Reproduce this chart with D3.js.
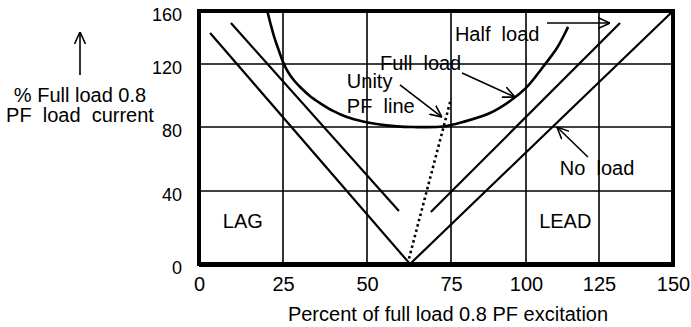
<!DOCTYPE html>
<html>
<head>
<meta charset="utf-8">
<script src="https://cdn.jsdelivr.net/npm/d3@7"></script>
<style>
  html, body { margin: 0; padding: 0; background: #fff; }
  svg { display: block; font-family: "Liberation Sans", Arial, Helvetica, sans-serif; }
</style>
</head>
<body>
<svg id="chart" width="691" height="327"></svg>
<script>
// ---- data ----
const xTicks = [0, 25, 50, 75, 100, 125, 150];
const yTicks = [0, 40, 80, 120, 160];
const xGrid = [25, 50, 75, 100, 125];
const yGrid = [40, 80, 120];

// No load V-curve
const noLoadX = [3.3, 62.8, 150];
const noLoadY = [143.4, 0, 160];

// Half load V-curve (two arms)
const halfLeftX = [9.5, 59.5];
const halfLeftY = [150.9, 29.0];
const halfRightX = [69.0, 132.1];
const halfRightY = [28.5, 150.9];

// Full load V-curve (U shape)
const fullLoadX = [20.4, 21.3, 22.3, 23.7, 25, 26.5, 28.3, 30.1, 33.0, 36.0, 39.9, 44.0, 48.8, 53.9, 58.9, 63.7, 72.6, 79, 88, 94.7, 100, 105.8, 110.6, 113.4, 114.4];
const fullLoadY = [159.2, 150.2, 141.1, 130.6, 121.5, 114.9, 109.5, 105.4, 99.7, 95.2, 90.2, 86.3, 83.5, 81.6, 80.4, 80, 80.3, 83.2, 88.9, 96.5, 104.8, 118.1, 132.1, 143.4, 148];

// Unity PF line (dotted)
const unityX = [62.5, 75];
const unityY = [3, 98];

// Annotation texts
const labelTexts = ["Unity", "PF  line", "Full  load", "Half  load", "No  load", "LAG", "LEAD"];
const labelX = [44.0, 44.0, 53.9, 76.3, 111.6, 7.1, 104.5];
const labelY = [104.8, 88.9, 116.2, 137.4, 50, 19.7, 19.7];

// Annotation arrows (from -> to)
const arrowFromX = [59.8, 78.7, 107.2, 121.2];
const arrowFromY = [106.7, 114.3, 150.9, 61.25];
const arrowToX = [72.3, 96.3, 128.7, 110.6];
const arrowToY = [86.3, 99.0, 150.9, 80];

const xTitle = "Percent of full load 0.8 PF excitation";
const yTitle = ["% Full load 0.8", "PF  load  current"];

// ---- scales (the source picture is not uniformly spaced) ----
const x = d3.scaleLinear().domain(xTicks).range([199, 283, 367, 451, 526, 599, 673]);
const y = d3.scaleLinear().domain(yTicks).range([264, 191, 127, 64, 11]);

const svg = d3.select("#chart");

svg.append("defs").append("marker")
  .attr("id", "arr")
  .attr("viewBox", "0 0 12 12")
  .attr("refX", 12).attr("refY", 6)
  .attr("markerWidth", 12).attr("markerHeight", 12)
  .attr("markerUnits", "userSpaceOnUse")
  .attr("orient", "auto")
  .append("path")
  .attr("d", "M0,0.5 L12,6 L0,11.5")
  .attr("fill", "none").attr("stroke", "#000").attr("stroke-width", 1.6);

// grid
svg.append("g").selectAll("line.vx").data(xGrid).join("line")
  .attr("x1", d => x(d)).attr("x2", d => x(d))
  .attr("y1", y(0)).attr("y2", y(160))
  .attr("stroke", "#000").attr("stroke-width", 1.6);
svg.append("g").selectAll("line.hy").data(yGrid).join("line")
  .attr("y1", d => y(d)).attr("y2", d => y(d))
  .attr("x1", x(0)).attr("x2", x(150))
  .attr("stroke", "#000").attr("stroke-width", 1.6);

const zip = (a, b) => a.map((v, i) => [v, b[i]]);
const straight = d3.line().x(d => x(d[0])).y(d => y(d[1]));
const smooth = d3.line().x(d => x(d[0])).y(d => y(d[1])).curve(d3.curveCatmullRom);

// series
svg.append("path").attr("d", straight(zip(noLoadX, noLoadY)))
  .attr("fill", "none").attr("stroke", "#000").attr("stroke-width", 2.2);
svg.append("path").attr("d", straight(zip(halfLeftX, halfLeftY)))
  .attr("fill", "none").attr("stroke", "#000").attr("stroke-width", 2.2);
svg.append("path").attr("d", straight(zip(halfRightX, halfRightY)))
  .attr("fill", "none").attr("stroke", "#000").attr("stroke-width", 2.2);
svg.append("path").attr("d", smooth(zip(fullLoadX, fullLoadY)))
  .attr("fill", "none").attr("stroke", "#000").attr("stroke-width", 2.6);
svg.append("path").attr("d", straight(zip(unityX, unityY)))
  .attr("fill", "none").attr("stroke", "#000").attr("stroke-width", 2.6)
  .attr("stroke-dasharray", "2.5,3");

// frame
svg.append("rect")
  .attr("x", x(0)).attr("y", y(160))
  .attr("width", x(150) - x(0)).attr("height", y(0) - y(160))
  .attr("fill", "none").attr("stroke", "#000").attr("stroke-width", 4);
svg.append("line")
  .attr("x1", x(0)).attr("x2", x(150) + 2)
  .attr("y1", y(0) + 1).attr("y2", y(0) + 1)
  .attr("stroke", "#000").attr("stroke-width", 4);

// axes
const xAxis = svg.append("g").attr("transform", `translate(0,${y(0)})`)
  .call(d3.axisBottom(x).tickValues(xTicks).tickSize(0).tickPadding(13));
xAxis.select(".domain").remove();
xAxis.selectAll("text").attr("font-size", 20).attr("fill", "#000")
  .attr("font-family", "Liberation Sans, Arial, sans-serif");

const yAxis = svg.append("g").attr("transform", `translate(${x(0)},0)`)
  .call(d3.axisLeft(y).tickValues(yTicks).tickSize(0).tickPadding(17));
yAxis.select(".domain").remove();
yAxis.selectAll("text").attr("font-size", 18).attr("fill", "#000").attr("dy", "0.5em")
  .attr("font-family", "Liberation Sans, Arial, sans-serif");

// titles
svg.append("text").attr("x", 448).attr("y", 321).attr("text-anchor", "middle")
  .attr("font-size", 20).style("white-space", "pre").text(xTitle);
svg.append("g").selectAll("text").data(yTitle).join("text")
  .attr("x", 80).attr("y", (d, i) => 102 + i * 20).attr("text-anchor", "middle")
  .attr("font-size", 20).style("white-space", "pre").text(d => d);
svg.append("line").attr("x1", 80).attr("x2", 80).attr("y1", 75).attr("y2", 32)
  .attr("stroke", "#000").attr("stroke-width", 1.6).attr("marker-end", "url(#arr)");

// annotation labels
svg.append("g").selectAll("text").data(labelTexts).join("text")
  .attr("x", (d, i) => x(labelX[i])).attr("y", (d, i) => y(labelY[i]))
  .attr("font-size", 20).style("white-space", "pre").text(d => d);

// annotation arrows
svg.append("g").selectAll("line").data(arrowFromX).join("line")
  .attr("x1", (d, i) => x(arrowFromX[i])).attr("y1", (d, i) => y(arrowFromY[i]))
  .attr("x2", (d, i) => x(arrowToX[i])).attr("y2", (d, i) => y(arrowToY[i]))
  .attr("stroke", "#000").attr("stroke-width", 1.6).attr("marker-end", "url(#arr)");
</script>
</body>
</html>
